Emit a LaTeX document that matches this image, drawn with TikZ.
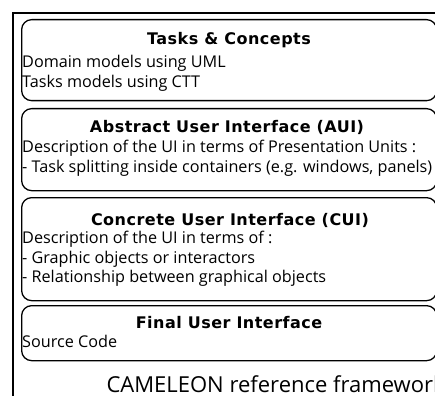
\documentclass[tikz,border=0pt]{standalone}
\usepackage{fontspec}
\setmainfont{Open Sans}
\newfontfamily\titlefont[LetterSpace=3]{DejaVu Sans}
\usetikzlibrary{positioning}
\begin{document}
\begin{tikzpicture}
  [x=1pt,y=-1pt,
   layer/.style={draw,line width=1.3pt,rounded corners=10pt,minimum width=415pt,anchor=north west,inner sep=0pt},
   title/.style={font=\titlefont\fontsize{16}{18}\selectfont\bfseries,inner sep=0pt,anchor=base},
   body/.style={font=\fontsize{16.2}{19.5}\selectfont,align=left,anchor=north west,inner sep=0pt}]
  \useasboundingbox (0,0) rectangle (435,395);
  \clip (0,0) rectangle (435,395);
  \draw[line width=2pt] (13,13) rectangle (470,430);

  \node (tc)[layer,minimum height=81pt] at (21,19) {};
  \node (aui)[layer,minimum height=82pt] at (21,108) {};
  \node (cui)[layer,minimum height=103pt] at (21,197) {};
  \node (fui)[layer,minimum height=55pt] at (21,305) {};

  \node (tctitle)[title] at (229,45) {Tasks \& Concepts};
  \node (tcbody)[body] at (22,55) {Domain models using UML\\Tasks models using CTT};

  \node (auititle)[title] at (227,133) {Abstract User Interface (AUI)};
  \node (auibody)[body] at (22,140) {Description of the UI in terms of Presentation Units :\\- Task splitting inside containers (e.g. windows, panels)};

  \node (cuititle)[title] at (230,225.5) {Concrete User Interface (CUI)};
  \node (cuibody)[body] at (22,231) {Description of the UI in terms of :\\- Graphic objects or interactors\\- Relationship between graphical objects};

  \node (fuititle)[title] at (229,328) {Final User Interface};
  \node (fuibody)[body] at (22,335) {Source Code};

  \node (caption)[font=\fontsize{22}{26}\selectfont,anchor=base west] at (103,392) {CAMELEON reference framework};
\end{tikzpicture}
\end{document}
